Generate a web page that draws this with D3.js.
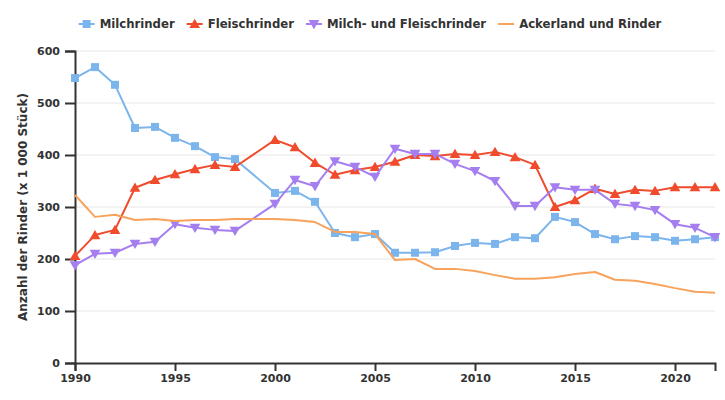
<!DOCTYPE html>
<html><head><meta charset="utf-8">
<script src="https://cdn.jsdelivr.net/npm/d3@7"></script>
<style>body{margin:0;background:#fff}svg{display:block}text{font-family:"DejaVu Sans",sans-serif;font-weight:bold;fill:#333}</style>
</head><body><svg id="c" width="725" height="400"></svg>
<script>
const years = d3.range(1990, 2023);
const milchrinder = [548,569,535,452,454,433,417,396,392,null,327,331,310,250,242,248,212,212,213,225,231,229,242,240,281,271,248,238,244,242,235,238,242];
const fleischrinder = [206,246,256,337,352,363,373,381,377,null,429,415,385,362,371,377,387,400,398,402,400,406,396,381,300,313,335,325,333,331,338,338,338];
const milchFleisch = [188,210,212,229,233,267,260,256,254,null,306,352,340,388,377,358,412,402,402,383,369,350,302,302,338,333,333,306,302,294,267,260,242];
const ackerland = [323,281,285,275,277,273,275,275,277,277,277,275,271,252,252,248,198,200,181,181,177,169,162,162,165,171,175,160,158,152,144,137,135];
const seriesNames = ["Milchrinder","Fleischrinder","Milch- und Fleischrinder","Ackerland und Rinder"];
const colors = ["#7cb5ec","#f04b2c","#a57ef0","#f7a35c"];
const markers = ["square","triangle","triangleDown",null];
const yTicks = [0,100,200,300,400,500,600];
const xTicks = [1990,1995,2000,2005,2010,2015,2020];
const yTitle = "Anzahl der Rinder (x 1 000 Stück)";

const svg = d3.select("#c");
const m = {l:75, r:10, t:51, b:37};
const W = 725, H = 400;
const x = d3.scaleLinear().domain([1990,2022]).range([m.l, W-m.r]);
const y = d3.scaleLinear().domain([0,600]).range([H-m.b, m.t]);

// grid
svg.append("g").selectAll("line").data(yTicks.filter(d=>d>0)).join("line")
  .attr("x1", m.l).attr("x2", W-m.r).attr("y1", d=>y(d)).attr("y2", d=>y(d))
  .attr("stroke","#e6e6e6").attr("stroke-width",1);

// axes
const ya = svg.append("g").attr("transform",`translate(${m.l},0)`)
  .call(d3.axisLeft(y).tickValues(yTicks).tickSize(10).tickPadding(5));
const xa = svg.append("g").attr("transform",`translate(0,${y(0)})`)
  .call(d3.axisBottom(x).tickValues(xTicks).tickFormat(d3.format("d")).tickSize(8).tickPadding(3));
[ya,xa].forEach(g=>{
  g.select(".domain").attr("stroke","#333").attr("stroke-width",2);
  g.selectAll(".tick line").attr("stroke","#333").attr("stroke-width",2);
  g.selectAll(".tick text").attr("font-size",11).attr("font-family","DejaVu Sans").attr("font-weight","bold").attr("fill","#333");
});

svg.append("text").attr("transform",`translate(27,${(m.t+y(0))/2}) rotate(-90)`)
  .attr("text-anchor","middle").attr("font-size",12).text(yTitle);

const data = [milchrinder, fleischrinder, milchFleisch, ackerland];
const line = d3.line().x(d=>x(d[0])).y(d=>y(d[1]));
function sym(g, type, color){
  if(type==="square") g.append("path").attr("d", d3.symbol(d3.symbolSquare, 64)()).attr("fill",color);
  else if(type==="triangle") g.append("path").attr("d", d3.symbol(d3.symbolTriangle, 50)()).attr("fill",color).attr("transform","translate(0,1)");
  else if(type==="triangleDown") g.append("path").attr("d", d3.symbol(d3.symbolTriangle, 50)()).attr("fill",color).attr("transform","translate(0,-1) rotate(180)");
}
data.forEach((vals,i)=>{
  const pts = years.map((yr,j)=>[yr, vals[j]]).filter(p=>p[1]!=null);
  svg.append("path").datum(pts).attr("d",line).attr("fill","none")
    .attr("stroke",colors[i]).attr("stroke-width",2).attr("stroke-linejoin","round");
  if(markers[i]){
    pts.forEach(p=>{
      const g = svg.append("g").attr("transform",`translate(${x(p[0])},${y(p[1])})`);
      sym(g, markers[i], colors[i]);
    });
  }
});

// legend
const lg = svg.append("g");
let lx = 0;
seriesNames.forEach((n,i)=>{
  const g = lg.append("g").attr("transform",`translate(${lx},0)`);
  g.append("line").attr("x1",0).attr("x2",16).attr("y1",0).attr("y2",0).attr("stroke",colors[i]).attr("stroke-width",2);
  if(markers[i]){ const s=g.append("g").attr("transform","translate(8,0)"); sym(s, markers[i], colors[i]); }
  const t = g.append("text").attr("x",21).attr("y",4).attr("font-size",11.7).text(n);
  lx += 21 + t.node().getComputedTextLength() + 12;
});
const lw = lx - 12;
lg.attr("transform",`translate(${370 - lw/2},24)`);
</script></body></html>
